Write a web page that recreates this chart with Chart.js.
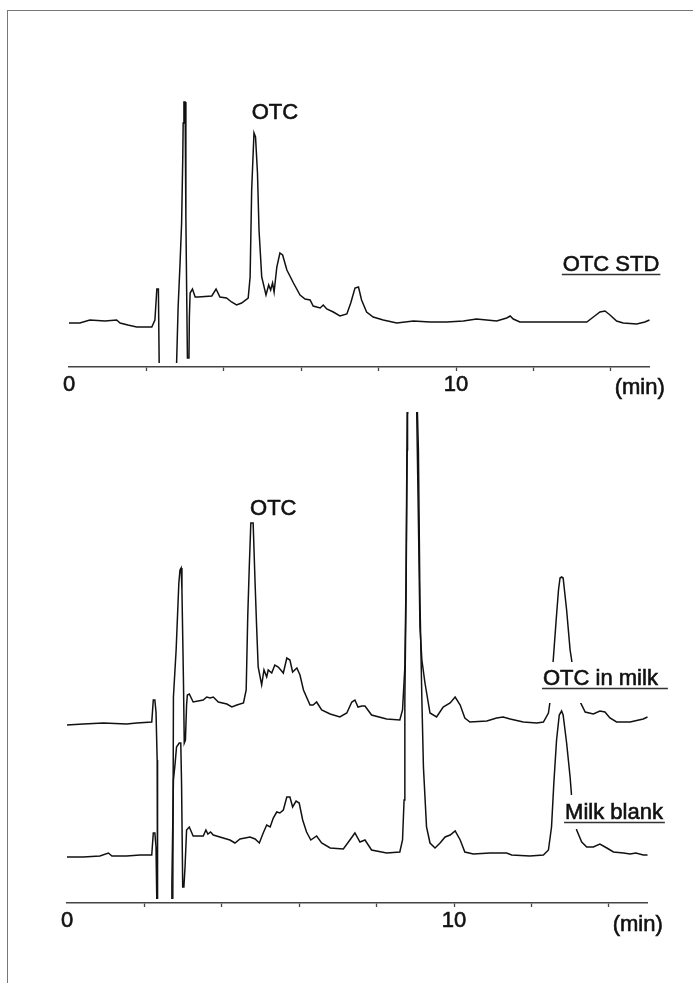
<!DOCTYPE html>
<html>
<head>
<meta charset="utf-8">
<title>OTC chromatograms</title>
<script src="https://cdn.jsdelivr.net/npm/chart.js@4.4.1/dist/chart.umd.min.js"></script>
<style>
    html, body { margin: 0; padding: 0; background: #fff; }
    #page { position: relative; width: 693px; height: 983px; overflow: hidden; }
    #frame { position: absolute; left: 7px; top: 10px; width: 800px; height: 1000px;
             border-left: 1px solid #777; border-top: 1px solid #777; }
    canvas { position: absolute; left: 0; }
</style>
</head>
<body>
<div id="page">
    <div id="frame"></div>
    <canvas id="stdChart" width="693" height="400" style="top:0"></canvas>
    <canvas id="milkChart" width="693" height="583" style="top:400px"></canvas>
</div>

<script>
// time axis (min)
const xTicks = [0, 2, 4, 6, 8, 10, 12, 14];
const xTickLabels = ["0", "", "", "", "", "10", "", ""];

// OTC standard
const stdTime = [
    0.00, 0.28, 0.54, 0.93, 1.23, 1.32, 1.52, 1.75, 2.14, 2.22, 2.27, 2.31, 2.33, 2.34,
    2.77, 2.78, 2.82, 2.87, 2.91, 2.94, 2.95, 2.97, 3.00, 3.02, 3.04, 3.06, 3.10, 3.11,
    3.13, 3.19, 3.26, 3.34, 3.69, 3.80, 3.90, 4.07, 4.20, 4.33, 4.46, 4.63, 4.68, 4.72,
    4.78, 4.82, 4.87, 4.91, 4.98, 5.09, 5.16, 5.21, 5.26, 5.30, 5.37, 5.45, 5.52, 5.63,
    5.80, 5.97, 6.10, 6.23, 6.31, 6.49, 6.57, 6.66, 6.83, 7.00, 7.18, 7.28, 7.39, 7.48,
    7.56, 7.69, 7.86, 8.12, 8.47, 8.90, 9.33, 9.76, 10.19, 10.53, 11.05, 11.31, 11.40,
    11.48, 11.65, 12.34, 12.95, 13.38, 13.55, 13.72, 13.85, 13.98, 14.15, 14.32, 14.67,
    14.88, 15.00
];
const stdSignal = [
    0, 0, 3, 2, 3, 0, -2, -4, -4, 3, 34, 34, -40, -80,
    -80, -40, 16, 60, 100, 166, 200, 221, 221, 106, 33, -35, -35, 6,
    30, 34, 26, 26, 27, 34, 26, 25, 21, 18, 20, 25, 46, 133,
    190, 186, 150, 93, 46, 28, 38, 33, 40, 31, 56, 70, 68, 53,
    40, 28, 24, 23, 17, 15, 18, 14, 11, 7, 9, 20, 35, 36,
    23, 11, 6, 3, 0, 2, 1, 1, 2, 4, 2, 5, 7,
    4, 1, 1, 1, 1, 6, 11, 12, 8, 2, 0, -1,
    1, 3
];

// OTC spiked milk
const milkTime = [
    0.00, 0.42, 0.94, 1.54, 1.80, 2.19, 2.23, 2.27, 2.30, 2.33, 2.34, 2.73, 2.75, 2.82,
    2.89, 2.92, 2.95, 2.97, 3.01, 3.03, 3.06, 3.09, 3.11, 3.16, 3.26, 3.52, 3.61, 3.70,
    3.78, 3.91, 4.13, 4.26, 4.39, 4.56, 4.63, 4.67, 4.71, 4.75, 4.81, 4.86, 4.90, 4.94,
    5.03, 5.09, 5.16, 5.20, 5.29, 5.37, 5.46, 5.59, 5.68, 5.76, 5.83, 5.94, 6.02, 6.11,
    6.28, 6.36, 6.45, 6.58, 6.80, 7.05, 7.23, 7.36, 7.44, 7.52, 7.62, 7.70, 7.87, 8.26,
    8.60, 8.67, 8.73, 8.76, 8.79, 8.80, 8.92, 9.03, 9.04, 9.08, 9.12, 9.17, 9.25, 9.38,
    9.55, 9.72, 9.90, 10.03, 10.16, 10.28, 10.41, 10.85, 11.10, 11.27, 11.45, 11.79, 12.14,
    12.31, 12.44, 12.48, 12.57, 12.64, 12.70, 12.74, 12.78, 12.82, 12.91, 13.00, 13.04,
    13.10, 13.18, 13.26, 13.39, 13.60, 13.77, 13.90, 14.03, 14.20, 14.55, 14.89, 15.00
];
const milkSignal = [
    -3, -2, -1, -2, -1, 0, 22, 22, 10, -38, -230, -230, 25, 72,
    139, 152, 154, 132, 39, -21, -18, 17, 27, 28, 20, 22, 25, 24,
    25, 20, 18, 15, 17, 19, 32, 105, 155, 199, 199, 139, 95, 55,
    37, 52, 45, 52, 49, 57, 55, 49, 64, 62, 50, 54, 47, 32,
    17, 17, 20, 12, 8, 5, 9, 20, 22, 15, 16, 16, 7, 3,
    2, 12, 55, 139, 309, 332, 422, 332, 302, 202, 95, 62, 39, 9,
    5, 15, 19, 25, 17, 4, 0, 1, 4, 5, 3, 0, -1,
    0, 9, 20, 65, 102, 132, 144, 145, 144, 112, 72, 62,
    37, 24, 20, 10, 8, 11, 10, 4, 0, 0, 3, 5
];

// milk blank
const blankTime = [
    0.00, 0.42, 0.85, 1.07, 1.16, 1.54, 1.89, 2.19, 2.23, 2.27, 2.30, 2.32, 2.33, 2.69,
    2.71, 2.75, 2.79, 2.83, 2.90, 2.94, 2.96, 2.99, 3.02, 3.05, 3.09, 3.16, 3.26, 3.52,
    3.59, 3.64, 3.71, 3.78, 3.95, 4.21, 4.34, 4.47, 4.73, 4.86, 4.97, 5.07, 5.16, 5.25,
    5.33, 5.42, 5.50, 5.59, 5.68, 5.76, 5.83, 5.92, 6.00, 6.09, 6.19, 6.30, 6.45, 6.58,
    6.80, 7.14, 7.31, 7.44, 7.57, 7.70, 7.87, 8.26, 8.60, 8.67, 8.71, 8.73, 8.76, 8.79,
    8.80, 8.92, 9.04, 9.08, 9.12, 9.17, 9.21, 9.29, 9.38, 9.51, 9.64, 9.77, 9.90, 10.03,
    10.16, 10.28, 10.50, 10.93, 11.36, 11.49, 11.96, 12.31, 12.44, 12.52, 12.58, 12.65,
    12.72, 12.78, 12.82, 12.91, 13.00, 13.04, 13.10, 13.17, 13.30, 13.43, 13.60, 13.77,
    13.95, 14.12, 14.38, 14.55, 14.70, 14.89, 15.00
];
const blankSignal = [
    0, 0, 1, 4, 1, 1, 2, 2, 24, 24, 10, -42, -95, -95,
    -26, 77, 92, 110, 114, 114, 74, -30, -30, -10, 27, 30, 21, 21,
    27, 23, 25, 22, 20, 17, 14, 18, 20, 18, 14, 24, 32, 30,
    39, 45, 44, 47, 60, 60, 50, 56, 54, 37, 25, 17, 21, 14,
    9, 8, 17, 24, 15, 17, 7, 4, 5, 17, 57, 157, 257, 407,
    467, 557, 467, 407, 257, 157, 90, 30, 14, 9, 14, 20, 22, 26,
    17, 5, 3, 4, 4, 2, 1, 2, 7, 30, 74, 117,
    142, 146, 142, 114, 80, 60, 42, 27, 15, 10, 10, 13,
    9, 5, 4, 3, 4, 2, 2
];

// vertical shift of the spiked trace above the blank
const milkOffset = 135;

const FONT = '"Liberation Sans", Arial, Helvetica, sans-serif';
const INK = "#111";

const toPoints = (time, sig, shift = 0) => time.map((t, i) => ({ x: t, y: sig[i] + shift }));

// text labels drawn on top of the traces (white box hides the line behind)
const traceLabels = {
    id: "traceLabels",
    afterDatasetsDraw(chart, args, opts) {
        const { ctx, chartArea } = chart;
        const xs = chart.scales.x, ys = chart.scales.y;
        ctx.save();
        ctx.font = `22px ${FONT}`;
        ctx.textBaseline = "alphabetic";
        ctx.textAlign = "left";
        ctx.lineWidth = 0.6;
        ctx.strokeStyle = INK;

        const write = (txt, x, y) => {
            ctx.fillStyle = INK;
            ctx.fillText(txt, x, y);
            ctx.strokeText(txt, x, y);
        };

        (opts.labels || []).forEach(l => {
            const px = xs.getPixelForValue(l.x);
            const py = ys.getPixelForValue(l.y);
            const w = ctx.measureText(l.text).width;
            const left = l.center ? px - w / 2 : px;

            if (l.mask) {
                const [ml, mt, mr, mb] = l.mask;
                ctx.fillStyle = "#fff";
                ctx.fillRect(left - ml, py - mt, w + ml + mr, mt + mb);
            }
            write(l.text, left, py);

            if (l.underline !== undefined) {
                ctx.save();
                ctx.strokeStyle = "#333";
                ctx.lineWidth = 1.7;
                ctx.beginPath();
                ctx.moveTo(left - 1, py + 3.5);
                ctx.lineTo(left + w + l.underline, py + 3.5);
                ctx.stroke();
                ctx.restore();
            }
        });

        // unit at the end of the time axis
        write("(min)", xs.getPixelForValue(14.1), chartArea.bottom + opts.unitDrop);
        ctx.restore();
    }
};

function makeChart(id, datasets, yMin, yMax, pad, labels, unitDrop) {
    return new Chart(document.getElementById(id), {
        type: "line",
        data: { datasets },
        plugins: [traceLabels],
        options: {
            responsive: false,
            animation: false,
            devicePixelRatio: 1,
            parsing: false,
            layout: { padding: pad },
            elements: {
                point: { radius: 0 },
                line: { tension: 0, borderWidth: 1.5, borderColor: INK }
            },
            scales: {
                x: {
                    type: "linear",
                    min: 0,
                    max: 15,
                    afterBuildTicks: s => { s.ticks = xTicks.map(v => ({ value: v })); },
                    afterFit: s => { s.height = 30; },
                    ticks: {
                        autoSkip: false,
                        maxRotation: 0,
                        padding: 3,
                        color: INK,
                        textStrokeColor: INK,
                        textStrokeWidth: 0.6,
                        font: { family: FONT, size: 22, lineHeight: 1 },
                        callback: v => xTickLabels[xTicks.indexOf(v)] || ""
                    },
                    grid: {
                        drawOnChartArea: false,
                        tickLength: 4,
                        tickWidth: 1.3,
                        tickColor: c => (c.tick && c.tick.value === 0) ? "rgba(0,0,0,0)" : "#444"
                    },
                    border: { display: true, color: "#444", width: 1.5 }
                },
                y: { display: false, min: yMin, max: yMax }
            },
            plugins: {
                legend: { display: false },
                tooltip: { enabled: false },
                traceLabels: { labels, unitDrop }
            }
        }
    });
}

const clipBox = { left: 0, top: 0, right: 2, bottom: -4 };

makeChart("stdChart", [
    { label: "OTC STD", data: toPoints(stdTime, stdSignal), clip: clipBox }
], -44, 233, { top: 90, bottom: 3, left: 69, right: 43.5 }, [
    { text: "OTC", x: 5.32, y: 204, center: true },
    { text: "OTC STD", x: 12.76, y: 52, underline: 1 }
], 27);

makeChart("milkChart", [
    { label: "OTC in milk", data: toPoints(milkTime, milkSignal, milkOffset), clip: clipBox },
    { label: "Milk blank", data: toPoints(blankTime, blankSignal), clip: clipBox }
], -46, 445, { top: 12, bottom: 50, left: 67, right: 45.5 }, [
    { text: "OTC", x: 5.33, y: 342, center: true },
    { text: "OTC in milk", x: 12.30, y: 172, underline: 10, mask: [3, 23, 14, 18] },
    { text: "Milk blank", x: 12.87, y: 38, underline: 2, mask: [5, 24, 5, 10] }
], 28);
</script>
</body>
</html>
